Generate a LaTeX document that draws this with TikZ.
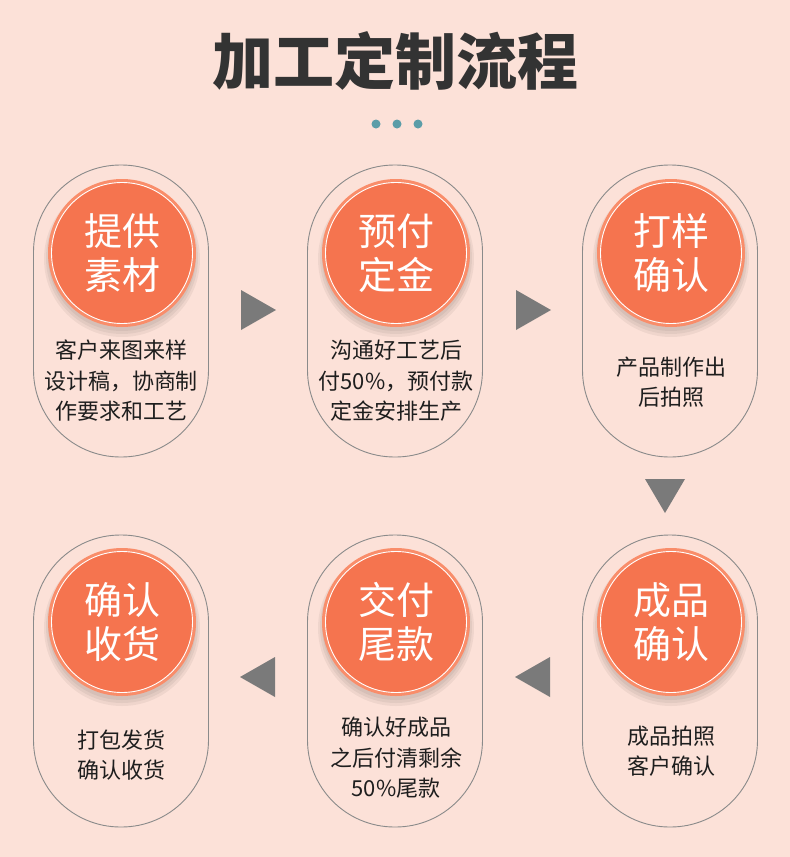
\documentclass[tikz,border=0pt]{standalone}
\usepackage{fontspec}
\newfontfamily\cjk{Noto Sans CJK SC}
\definecolor{bgc}{HTML}{FCE1D8}
\definecolor{rimc}{HTML}{F98D6A}
\definecolor{corec}{HTML}{F5744F}
\definecolor{linec}{HTML}{8A8A8A}
\definecolor{arrc}{HTML}{7A7A7A}
\definecolor{dotc}{HTML}{5B9DA8}
\definecolor{titc}{HTML}{333333}
\definecolor{txtc}{HTML}{1E1E1E}
\tikzset{
  card/.style={draw=linec, line width=0.9pt, rectangle, minimum width=175pt, minimum height=292pt, rounded corners=87pt, inner sep=0pt},
  rimcirc/.style={circle, fill=rimc, minimum size=148pt, inner sep=0pt},
  corecirc/.style={circle, fill=corec, draw=white, line width=0.9pt, minimum size=141pt, inner sep=0pt},
  shad/.style={circle, fill=black, opacity=0.05, inner sep=0pt},
  ctext/.style={text=white, align=center, font=\cjk\fontsize{38}{44}\selectfont},
  dtext/.style={text=txtc, align=center, font=\cjk\fontsize{22}{30.5}\selectfont},
  tri/.style={fill=arrc},
  dotn/.style={circle, fill=dotc, minimum size=9pt, inner sep=0pt}
}
\begin{document}
\begin{tikzpicture}[x=1pt,y=-1pt]
\useasboundingbox (0,0) rectangle (790,857);
\fill[bgc] (0,0) rectangle (790,857);
% title
\node[text=titc, font=\cjk\bfseries\fontsize{61}{61}\selectfont] (title) at (395,61) {加工定制流程};
\node[dotn] (d1) at (376,124) {};
\node[dotn] (d2) at (397,124) {};
\node[dotn] (d3) at (418,124) {};
% cards
\node[card] (c1) at (121,311) {};
\node[card] (c2) at (395,311) {};
\node[card] (c3) at (670,311) {};
\node[card] (c4) at (121,681) {};
\node[card] (c5) at (395,681) {};
\node[card] (c6) at (670,681) {};
% circles
\foreach \n/\cx/\cy in {1/122/253, 2/396/253, 3/671/253, 4/122/622, 5/396/622, 6/671/622}{
  \node[shad, minimum size=156pt] at (\cx,\cy+6) {};
  \node[shad, minimum size=152pt] at (\cx,\cy+5) {};
  \node[shad, minimum size=148pt] at (\cx,\cy+4) {};
  \node[rimcirc] (r\n) at (\cx,\cy) {};
  \node[corecirc] (k\n) at (\cx,\cy) {};
}
\node[ctext] (t1) at (k1) {提供\\素材};
\node[ctext] (t2) at (k2) {预付\\定金};
\node[ctext] (t3) at (k3) {打样\\确认};
\node[ctext] (t4) at (k4) {确认\\收货};
\node[ctext] (t5) at (k5) {交付\\尾款};
\node[ctext] (t6) at (k6) {成品\\确认};
% descriptions
\node[dtext] (e1) at (121,381) {客户来图来样\\设计稿，协商制\\作要求和工艺};
\node[dtext] (e2) at (396,381) {沟通好工艺后\\付50\%，预付款\\定金安排生产};
\node[dtext] (e3) at (671,382) {产品制作出\\后拍照};
\node[dtext] (e4) at (121,755) {打包发货\\确认收货};
\node[dtext] (e5) at (396,758) {确认好成品\\之后付清剩余\\50\%尾款};
\node[dtext] (e6) at (671,751) {成品拍照\\客户确认};
% arrows
\coordinate (a1) at (258,310);
\coordinate (a2) at (533,310);
\coordinate (a3) at (665,495);
\coordinate (a4) at (258,677);
\coordinate (a5) at (533,677);
\fill[tri] ([shift={(-17,-20)}]a1) -- ([shift={(-17,20)}]a1) -- ([shift={(18,0)}]a1) -- cycle;
\fill[tri] ([shift={(-17,-20)}]a2) -- ([shift={(-17,20)}]a2) -- ([shift={(18,0)}]a2) -- cycle;
\fill[tri] ([shift={(-20,-16)}]a3) -- ([shift={(20,-16)}]a3) -- ([shift={(0,18)}]a3) -- cycle;
\fill[tri] ([shift={(17,-20)}]a4) -- ([shift={(17,20)}]a4) -- ([shift={(-18,0)}]a4) -- cycle;
\fill[tri] ([shift={(17,-20)}]a5) -- ([shift={(17,20)}]a5) -- ([shift={(-18,0)}]a5) -- cycle;
\end{tikzpicture}
\end{document}
